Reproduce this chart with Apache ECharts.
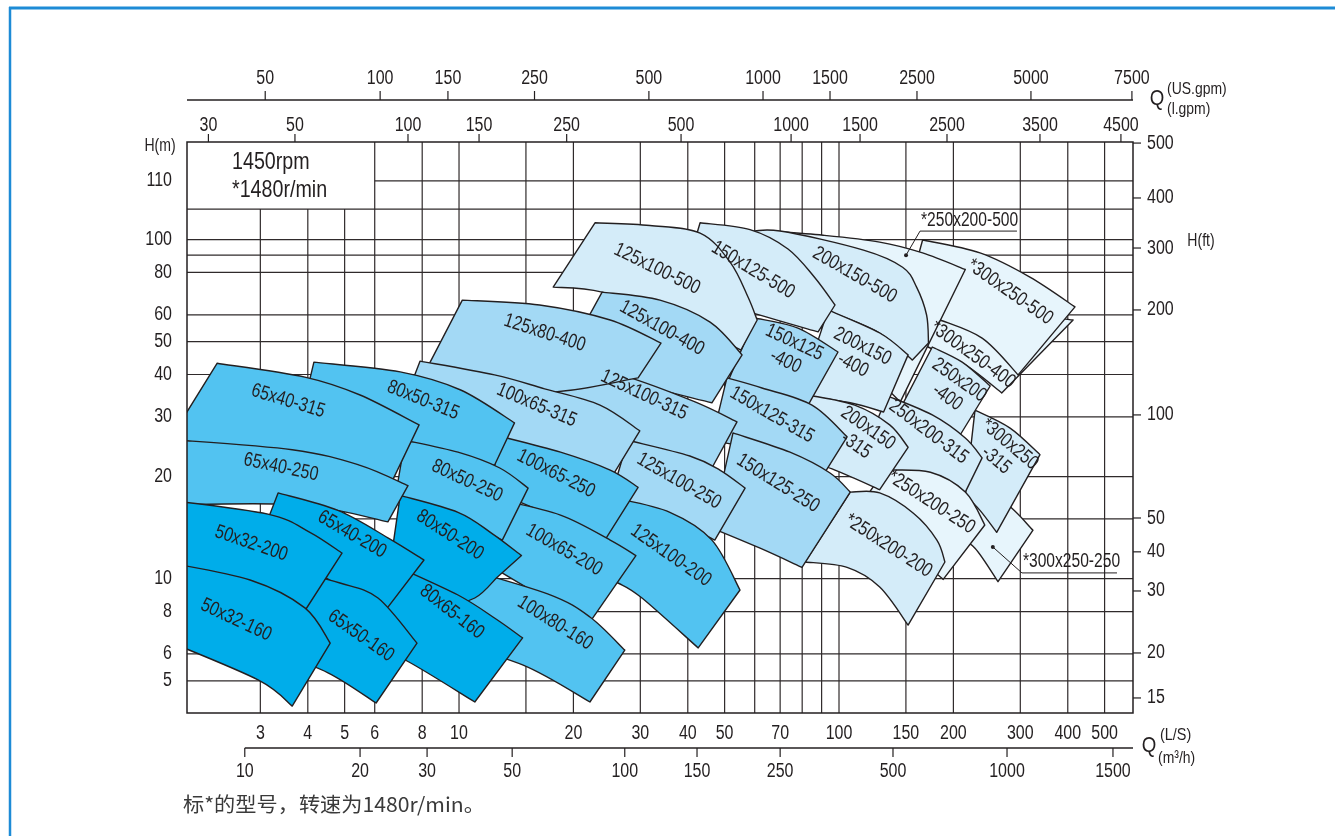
<!DOCTYPE html>
<html>
<head>
<meta charset="utf-8">
<script src="https://cdn.jsdelivr.net/npm/echarts/dist/echarts.min.js"></script>
<style>
html,body{margin:0;padding:0;background:#fff;}
#chart{width:1335px;height:836px;}
</style>
</head>
<body>
<div id="chart"></div>
<script>
// pump selection chart, 1450rpm / *1480r/min
const FONT = "'Liberation Sans', Arial, sans-serif";
const INK = '#231f20';
const GRID = '#2f2a2b';
const TS = 0.8; // condensed text look
const TONES = ['#00adea', '#52c3f1', '#a3d9f5', '#d4ecf9', '#e7f5fc'];

// axis extents (Q in L/s, H in m)
const Q_MIN = 1.9236, Q_MAX = 593.9, H_MIN = 4.018, H_MAX = 193.9;

// grid lines
const gridFlow = [3,4,5,6,8,10,15,20,30,40,50,60,70,80,90,100,150,200,300,400,500];
const gridHead = [5,6,8,10,15,20,30,40,50,60,80,90,100,123,149];
const rpmBoxFlow = 6, rpmBoxHead = 123;

// tick labels
const flowLabels = [3,4,5,6,8,10,20,30,40,50,70,100,150,200,300,400,500];
const cubicTickPos = [2.73,5.49,8.24,13.8,27.3,42.3,70,138.7,276.8,526];
const cubicTickText = ['10','20','30','50','100','150','250','500','1000','1500'];
const usGpmTickPos = [3.09,6.2,9.35,15.8,31.6,63.1,94.7,160.4,320,590];
const usGpmTickText = ['50','100','150','250','500','1000','1500','2500','5000','7500'];
const impGpmTickPos = [2.19,3.70,7.34,11.29,19.2,38.4,74.8,113.6,192.4,338,552];
const impGpmTickText = ['30','50','100','150','250','500','1000','1500','2500','3500','4500'];
const headTickPos = [5,6,8,10,20,30,40,50,60,80,100,149];
const headTickText = ['5','6','8','10','20','30','40','50','60','80','100','110'];
const feetTickPos = [192.5,132.6,94.4,62.0,30.4,15.1,12.0,9.2,6.04,4.45];
const feetTickText = ['500','400','300','200','100','50','40','30','20','15'];

// pump ranges, in drawing order (later ones lie on top)
const pumpNames = [
  '*300x250-400','*300x250-500','*300x250-250','*300x250-315',
  '*250x200-500','250x200-400','250x200-315','*250x200-250',
  '200x150-500','200x150-400','200x150-315','*250x200-200',
  '150x125-500','150x125-400','150x125-315','150x125-250',
  '125x100-500','125x100-400','125x100-315','125x100-250','125x100-200',
  '125x80-400','100x65-315','100x65-250','100x65-200','100x80-160',
  '80x50-315','80x50-250','80x50-200','80x65-160',
  '65x40-315','65x40-250','65x40-200','65x50-160',
  '50x32-200','50x32-160'
];
const pumpTone = [4,4,4,3, 4,3,3,4, 3,3,3,3, 3,2,2,2, 3,2,2,2,1, 2,2,1,1,1, 1,1,0,0, 1,1,0,0, 0,0];
// upper curve (largest impeller), left to right
const pumpTop = [
  [[168,58.7],[265,61.1],[413,57.9]],
  [[166,99.7],[235,91.3],[318,77.5],[418,63.3]],
  [[208,17.1],[265,17.1],[324,13.9]],
  [[228,31.4],[282,27.8],[338,23.2]],
  [[65.8,106],[90.8,103],[128,98.3],[166,91.3],[215,81.6]],
  [[176,48.2],[211,43.5],[250,37.0]],
  [[134,34.6],[176,30.4],[215,26.0],[238,22.7]],
  [[132,20.9],[174,20.6],[215,18.0],[242,14.4]],
  [[56.6,105],[70,106],[116,93.1],[147,82.9],[160,72.4],[170,59.9],[172,49.5]],
  [[93.6,62.0],[128,53.0],[152,45.7]],
  [[82.9,34.8],[110,32.5],[136,28.4],[152,24.4]],
  [[107,18.0],[128,17.9],[157,15.6],[181,13.0],[190,11.2]],
  [[43.1,112],[58.3,107],[73.4,93.8],[86.5,77.0],[97.6,64.1]],
  [[60.1,58.7],[78,54.8],[99.4,46.6]],
  [[50.7,39.1],[62.7,36.5],[84.9,32.5],[105,26.2]],
  [[52.6,26.9],[74.3,23.6],[94.7,20.5],[107,18.0]],
  [[22.8,112],[31.8,110],[43.1,104.5],[51.7,85.8],[57.6,67.7],[60.9,57.9]],
  [[23.8,70],[33.8,66.3],[45.8,57.1],[55.6,45.7]],
  [[18.8,43.2],[27.8,39.3],[41.8,33.2],[53.9,29.0]],
  [[27.8,25.6],[40.5,23.0],[48.6,20.9],[56.6,18.5]],
  [[25.7,17.3],[35.9,15.7],[46.3,13.0],[54.9,9.26]],
  [[10.2,66.3],[16.3,64.1],[25,57.9],[34,49.5]],
  [[7.9,43.8],[12.4,39.9],[16.8,36.3],[23.5,32.5],[29.9,27.3]],
  [[12.8,26.3],[18.5,23.6],[25,20.9],[29.6,18.6]],
  [[12.8,17.1],[18.5,15.4],[25,13.0],[29.2,11.7]],
  [[9.76,10.9],[17.1,9.02],[22.1,7.71],[27.3,6.16]],
  [[4.15,43.5],[7.0,40.7],[10.1,36.0],[14,28.8]],
  [[7.21,25.6],[9.94,23.6],[12.8,21.2],[15.2,18.5]],
  [[7.0,17.6],[9.94,15.7],[12.2,13.6],[14.6,11.7]],
  [[7.0,10.75],[9.94,8.95],[12.4,7.66],[14.7,6.69]],
  [[2.31,43.2],[3.93,39.3],[5.49,34.8],[7.85,28.4]],
  [[1.68,25.8],[3.64,24.0],[5.49,21.6],[7.34,18.8]],
  [[3.34,17.9],[4.8,15.9],[6.5,13.2],[8.09,11.35]],
  [[3.82,10.4],[4.86,9.71],[6.12,8.77],[7.75,6.46]],
  [[1.68,17.1],[3.14,15.5],[4.05,13.7],[4.92,11.9]],
  [[1.68,11.2],[2.82,9.91],[3.93,8.2],[4.58,6.46]]
];
// lower curve (smallest impeller), left to right
const pumpBottom = [
  [[171.5,48.2],[215,42.7],[268,35.3]],
  [[149,64.1],[179,58.7],[238,51.2],[296,39.9]],
  [[202,13.4],[228,12.3],[262,9.8]],
  [[215,17.6],[235,15.9],[260,13.7]],
  [[65.8,93.2],[101,50.5],[145,33.2]],
  [[140,29.4],[174,27.4],[206,26.0]],
  [[114,22.4],[158,19.6],[215,18.0]],
  [[107,14.9],[145,12.6],[188,9.95]],
  [[74.3,66.3],[94.7,61.2],[128,53.0],[156,44.1]],
  [[79,34.8],[107,33.0],[131,31.0]],
  [[74.3,23.2],[97.6,20.9],[128,18.3]],
  [[81.4,11.2],[105,10.8],[128,9.45],[152,7.3]],
  [[38.2,71.0],[58.3,61.1],[88.1,53.4]],
  [[50.1,36.3],[65.8,35.5],[82.9,32.5]],
  [[46.3,25.6],[70,23.2],[91.9,20.6]],
  [[46.3,14.1],[62,12.3],[79.9,10.8]],
  [[17.7,72.4],[23.8,70.0],[38.2,58.7],[55.2,47.2]],
  [[18.5,41.8],[27.8,38.0],[46.3,33.0]],
  [[16.3,29.4],[28.2,23.8],[46.3,21.2]],
  [[25,17.1],[33.8,15.7],[47.1,13.0]],
  [[21.5,10.6],[26.2,9.71],[30.3,8.77],[42.6,6.25]],
  [[8.14,40.7],[16.3,35.5],[29.6,39.1]],
  [[7.21,33.6],[14.5,24.0],[25.4,20.2]],
  [[12.1,18.3],[17.4,15.4],[24.2,13.0]],
  [[11.4,11.35],[16.3,8.95],[22.1,7.45]],
  [[8.91,6.6],[14.7,5.57],[22.1,4.33]],
  [[3.82,29.4],[7.21,23.8],[12.4,21.6]],
  [[6.78,17.1],[10.1,14.9],[13,13]],
  [[6.39,8.65],[8.91,8.31],[11.0,8.77],[12.6,10.1]],
  [[5.49,6.6],[7.3,5.72],[11,4.33]],
  [[1.66,23.8],[3.64,23.6],[6.7,19.6]],
  [[1.68,16.5],[3.82,16.5],[6.5,14.7]],
  [[2.96,12.6],[4.31,10.3],[6.27,7.82]],
  [[3.18,6.16],[4.52,5.28],[6.05,4.3]],
  [[1.68,9.91],[2.65,9.14],[3.82,7.66]],
  [[1.68,6.6],[2.96,5.03],[3.64,4.21]]
];
// label text, anchor and slope (deg) inside each range
const pumpLabel = [
  '*300x250-400','*300x250-500','','*300x250\n-315',
  '','250x200\n-400','250x200-315','*250x200-250',
  '200x150-500','200x150\n-400','200x150\n-315','*250x200-200',
  '150x125-500','150x125\n-400','150x125-315','150x125-250',
  '125x100-500','125x100-400','125x100-315','125x100-250','125x100-200',
  '125x80-400','100x65-315','100x65-250','100x65-200','100x80-160',
  '80x50-315','80x50-250','80x50-200','80x65-160',
  '65x40-315','65x40-250','65x40-200','65x50-160',
  '50x32-200','50x32-160'
];
const pumpLabelPos = [
  [225,45.7],[282,70],[0,0],[270,23.6],
  [0,0],[200,36.3],[172,27.1],[175,16.8],
  [110,78.6],[112,45.4],[115,26.2],[135,12.5],
  [59.4,81.3],[74.3,46.6],[66.6,30.4],[69.1,19.1],
  [33.2,81.9],[34.2,54.8],[30.7,34.8],[37.9,19.4],[36.1,11.7],
  [16.8,53],[16,32.5],[18,20.4],[18.9,12.15],[17.9,7.4],
  [8.04,33.6],[10.5,19.4],[9.47,13.45],[9.58,7.98],
  [3.55,33.4],[3.4,21.3],[5.23,13.5],[5.52,6.78],
  [2.84,12.7],[2.59,7.55]
];
const pumpLabelSlope = [
  36,35,0,40, 0,35,37,33, 30,27,35,33, 31,25,30,32,
  26,29,25,30,35, 18,23,27,30,32, 22,25,33,38, 17,12,30,35, 19,25
];

// callout labels with leader lines
const calloutText = ['*250x200-500', '*300x250-250'];
const calloutDot = [[150.1,89.9],[254,12.4]];
const calloutLine = [[[163.4,105.9],[294,105.9]], [[303,10.4],[539,10.4]]];

function smooth(pts) {
  let d = '';
  for (let i = 0; i < pts.length - 1; i++) {
    const p0 = pts[i > 0 ? i - 1 : i], p1 = pts[i], p2 = pts[i + 1];
    const p3 = pts[i + 2 < pts.length ? i + 2 : i + 1];
    const c1x = p1[0] + (p2[0] - p0[0]) / 6, c1y = p1[1] + (p2[1] - p0[1]) / 6;
    const c2x = p2[0] - (p3[0] - p1[0]) / 6, c2y = p2[1] - (p3[1] - p1[1]) / 6;
    d += ' C ' + [c1x, c1y, c2x, c2y, p2[0], p2[1]].map(v => v.toFixed(1)).join(' ');
  }
  return d;
}
function txt(text, x, y, size, opt) {
  opt = opt || {};
  return {
    type: 'text', x: x, y: y, scaleX: opt.scale || TS, rotation: opt.rotation || 0,
    style: {text: text, font: size + 'px ' + FONT, fill: opt.fill || INK,
            align: opt.align || 'center', verticalAlign: 'middle', lineHeight: size + 1}
  };
}

const series = [];
// vertical grid
series.push({
  type: 'custom', silent: true, clip: true,
  data: gridFlow.map(q => [q, H_MIN]),
  renderItem: function (params, api) {
    const q = gridFlow[params.dataIndex];
    const a = api.coord([q, H_MIN]), b = api.coord([q, q < rpmBoxFlow ? rpmBoxHead : H_MAX]);
    return {type: 'line', shape: {x1: a[0], y1: a[1], x2: b[0], y2: b[1]}, style: {stroke: GRID, lineWidth: 1.2}};
  }
});
// horizontal grid
series.push({
  type: 'custom', silent: true, clip: true,
  data: gridHead.map(h => [Q_MIN, h]),
  renderItem: function (params, api) {
    const h = gridHead[params.dataIndex];
    const a = api.coord([h > rpmBoxHead ? rpmBoxFlow : Q_MIN, h]), b = api.coord([Q_MAX, h]);
    return {type: 'line', shape: {x1: a[0], y1: a[1], x2: b[0], y2: b[1]}, style: {stroke: GRID, lineWidth: 1.2}};
  }
});
// pump ranges
series.push({
  type: 'custom', silent: true, clip: true,
  data: pumpNames.map((n, i) => pumpTop[i][0]),
  renderItem: function (params, api) {
    const i = params.dataIndex;
    const top = pumpTop[i].map(p => api.coord(p));
    const bot = pumpBottom[i].map(p => api.coord(p)).reverse();
    const d = 'M ' + top[0][0].toFixed(1) + ' ' + top[0][1].toFixed(1) + smooth(top) +
      ' L ' + bot[0][0].toFixed(1) + ' ' + bot[0][1].toFixed(1) + smooth(bot) + ' Z';
    return {type: 'path', shape: {pathData: d},
            style: {fill: TONES[pumpTone[i]], stroke: INK, lineWidth: 1.4, lineJoin: 'round'}};
  }
});
// pump labels
series.push({
  type: 'custom', silent: true, clip: false,
  data: pumpLabelPos,
  renderItem: function (params, api) {
    const i = params.dataIndex;
    if (!pumpLabel[i]) return null;
    const p = api.coord(pumpLabelPos[i]);
    return txt(pumpLabel[i], p[0], p[1], 20, {rotation: -pumpLabelSlope[i] * Math.PI / 180, scale: 0.8});
  }
});
// callouts
series.push({
  type: 'custom', silent: true, clip: false,
  data: calloutDot,
  renderItem: function (params, api) {
    const i = params.dataIndex;
    const dot = api.coord(calloutDot[i]);
    const a = api.coord(calloutLine[i][0]), b = api.coord(calloutLine[i][1]);
    return {type: 'group', children: [
      {type: 'polyline', shape: {points: [dot, a, b]}, style: {stroke: INK, lineWidth: 1, fill: null}},
      {type: 'circle', shape: {cx: dot[0], cy: dot[1], r: 2}, style: {fill: INK}},
      txt(calloutText[i], a[0] + 1, a[1] - 11, 20, {align: 'left', scale: 0.78})
    ]};
  }
});
// L/s labels under the plot
series.push({
  type: 'custom', silent: true, clip: false,
  data: flowLabels.map(q => [q, H_MIN]),
  renderItem: function (params, api) {
    const g = params.coordSys, q = flowLabels[params.dataIndex];
    return txt(String(q), api.coord([q, H_MIN])[0], g.y + g.height + 20, 20);
  }
});
// m3/h scale
series.push({
  type: 'custom', silent: true, clip: false,
  data: cubicTickPos.map(q => [q, H_MIN]),
  renderItem: function (params, api) {
    const g = params.coordSys, i = params.dataIndex;
    const x = api.coord([cubicTickPos[i], H_MIN])[0], y = g.y + g.height + 35;
    const kids = [
      {type: 'line', shape: {x1: x, y1: y, x2: x, y2: y + 9}, style: {stroke: INK, lineWidth: 1.2}},
      txt(cubicTickText[i], x, y + 23, 20)
    ];
    if (i === 0) kids.push({type: 'line', shape: {x1: x, y1: y, x2: g.x + g.width, y2: y}, style: {stroke: INK, lineWidth: 1.3}});
    return {type: 'group', children: kids};
  }
});
// US gpm scale
series.push({
  type: 'custom', silent: true, clip: false,
  data: usGpmTickPos.map(q => [q, H_MAX]),
  renderItem: function (params, api) {
    const g = params.coordSys, i = params.dataIndex;
    const x = api.coord([usGpmTickPos[i], H_MAX])[0], y = g.y - 42;
    const kids = [
      {type: 'line', shape: {x1: x, y1: y, x2: x, y2: y - 9}, style: {stroke: INK, lineWidth: 1.2}},
      txt(usGpmTickText[i], x, y - 22, 20)
    ];
    if (i === 0) kids.push({type: 'line', shape: {x1: g.x, y1: y, x2: g.x + g.width, y2: y}, style: {stroke: INK, lineWidth: 1.3}});
    return {type: 'group', children: kids};
  }
});
// imperial gpm scale
series.push({
  type: 'custom', silent: true, clip: false,
  data: impGpmTickPos.map(q => [q, H_MAX]),
  renderItem: function (params, api) {
    const g = params.coordSys, i = params.dataIndex;
    const x = api.coord([impGpmTickPos[i], H_MAX])[0], y = g.y;
    return {type: 'group', children: [
      {type: 'line', shape: {x1: x, y1: y, x2: x, y2: y - 8}, style: {stroke: INK, lineWidth: 1.2}},
      txt(impGpmTickText[i], x, y - 17, 20)
    ]};
  }
});
// H (m) labels
series.push({
  type: 'custom', silent: true, clip: false,
  data: headTickPos.map(h => [Q_MIN, h]),
  renderItem: function (params, api) {
    const g = params.coordSys, i = params.dataIndex;
    const y = api.coord([Q_MIN, headTickPos[i]])[1];
    return txt(headTickText[i], g.x - 15, y, 20, {align: 'right'});
  }
});
// H (ft) scale
series.push({
  type: 'custom', silent: true, clip: false,
  data: feetTickPos.map(h => [Q_MAX, h]),
  renderItem: function (params, api) {
    const g = params.coordSys, i = params.dataIndex;
    const y = api.coord([Q_MAX, feetTickPos[i]])[1], x = g.x + g.width;
    return {type: 'group', children: [
      {type: 'line', shape: {x1: x, y1: y, x2: x + 8, y2: y}, style: {stroke: INK, lineWidth: 1.2}},
      txt(feetTickText[i], x + 14, y, 20, {align: 'left'})
    ]};
  }
});

const chart = echarts.init(document.getElementById('chart'));
chart.setOption({
  animation: false,
  backgroundColor: '#ffffff',
  grid: {left: 187, top: 142, width: 946, height: 571},
  xAxis: {type: 'log', logBase: 10, min: Q_MIN, max: Q_MAX, show: false},
  yAxis: {type: 'log', logBase: 10, min: H_MIN, max: H_MAX, show: false},
  series: series,
  graphic: [
    {type: 'line', z: 100, shape: {x1: 9, y1: 8, x2: 1335, y2: 8}, style: {stroke: '#1d8bd6', lineWidth: 3}},
    {type: 'line', z: 100, shape: {x1: 10, y1: 7, x2: 10, y2: 836}, style: {stroke: '#1d8bd6', lineWidth: 2.5}},
    {type: 'rect', z: 100, shape: {x: 187, y: 142, width: 946, height: 571},
     style: {fill: null, stroke: INK, lineWidth: 1.5}},
    Object.assign(txt('1450rpm', 232, 162, 24, {align: 'left', scale: 0.82}), {z: 100}),
    Object.assign(txt('*1480r/min', 232, 190, 24, {align: 'left', scale: 0.82}), {z: 100}),
    Object.assign(txt('H(m)', 160, 146, 18, {scale: 0.78}), {z: 100}),
    Object.assign(txt('H(ft)', 1201, 241, 18, {scale: 0.78}), {z: 100}),
    Object.assign(txt('Q', 1157, 99, 22, {scale: 0.85}), {z: 100}),
    Object.assign(txt('(US.gpm)', 1167, 89, 17, {align: 'left', scale: 0.82}), {z: 100}),
    Object.assign(txt('(l.gpm)', 1167, 109, 17, {align: 'left', scale: 0.82}), {z: 100}),
    Object.assign(txt('Q', 1149, 746, 22, {scale: 0.85}), {z: 100}),
    Object.assign(txt('(L/S)', 1160, 735, 17, {align: 'left', scale: 0.85}), {z: 100}),
    Object.assign(txt('(m³/h)', 1158, 758, 17, {align: 'left', scale: 0.82}), {z: 100}),
    {type: 'text', z: 100, x: 183, y: 804, scaleX: 1.06,
     style: {text: '标*的型号，转速为1480r/min。', font: "20px 'Noto Sans CJK SC', sans-serif",
             fill: '#3a3a3a', align: 'left', verticalAlign: 'middle'}}
  ]
});
</script>
</body>
</html>
